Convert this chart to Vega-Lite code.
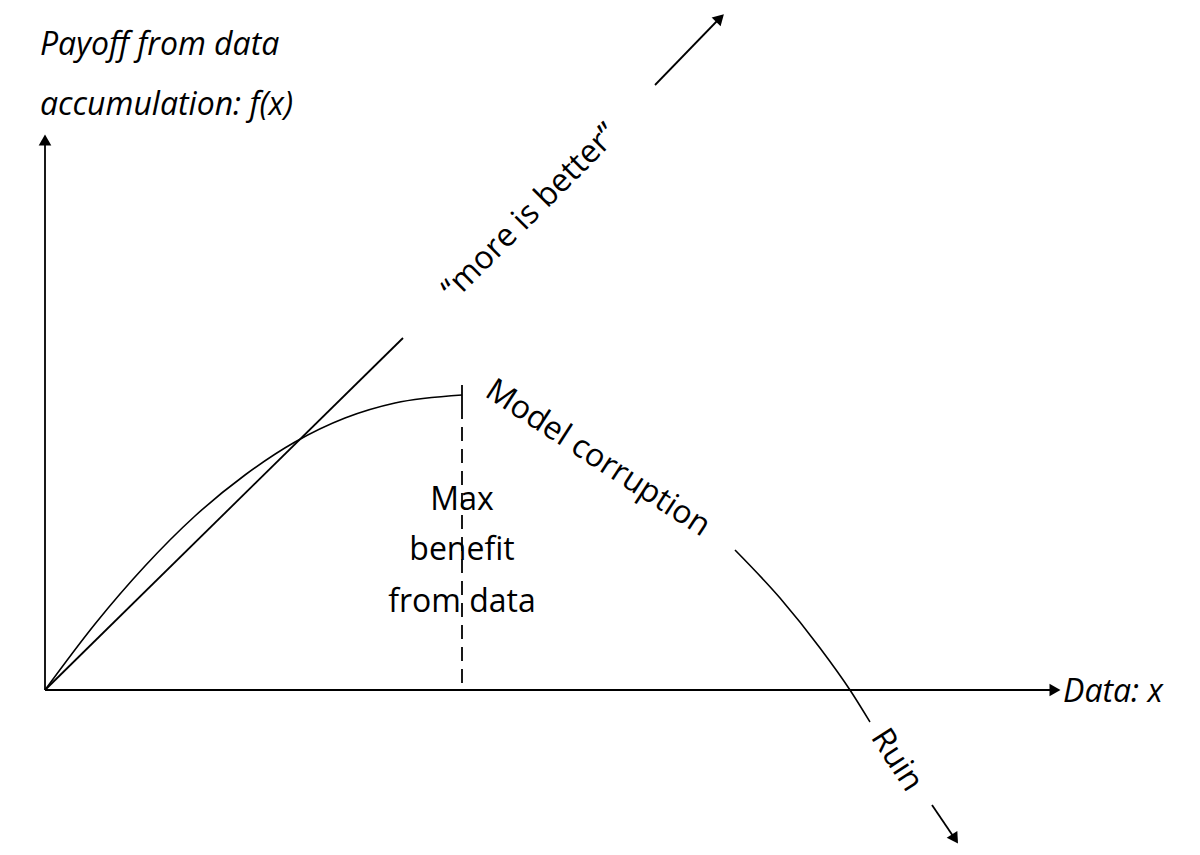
{
  "$schema": "https://vega.github.io/schema/vega-lite/v6.json",
  "width": 1200,
  "height": 855,
  "padding": 0,
  "autosize": {"type": "none"},
  "config": {"view": {"stroke": null}, "background": "white"},
  "datasets": {
    "lines": [
      {"seg": "yaxis", "i": 0, "x": 0, "y": 0},
      {"seg": "yaxis", "i": 1, "x": 0, "y": 545},
      {"seg": "xaxis", "i": 0, "x": 0, "y": 0},
      {"seg": "xaxis", "i": 1, "x": 1005, "y": 0},
      {"seg": "diag", "i": 0, "x": 0, "y": 0},
      {"seg": "diag", "i": 1, "x": 358, "y": 352},
      {"seg": "diag2", "i": 0, "x": 610, "y": 605},
      {"seg": "diag2", "i": 1, "x": 672, "y": 669},
      {"seg": "tick", "i": 0, "x": 417, "y": 305},
      {"seg": "tick", "i": 1, "x": 417, "y": 285},
      {"seg": "ruin", "i": 0, "x": 887, "y": -115},
      {"seg": "ruin", "i": 1, "x": 908, "y": -146}
    ],
    "curves": [
      {"seg": "curve", "i": 0, "x": 0, "y": 0},
      {"seg": "curve", "i": 1, "x": 50, "y": 66},
      {"seg": "curve", "i": 2, "x": 100, "y": 124},
      {"seg": "curve", "i": 3, "x": 150, "y": 174},
      {"seg": "curve", "i": 4, "x": 200, "y": 215},
      {"seg": "curve", "i": 5, "x": 250, "y": 248},
      {"seg": "curve", "i": 6, "x": 300, "y": 272},
      {"seg": "curve", "i": 7, "x": 350, "y": 287},
      {"seg": "curve", "i": 8, "x": 417, "y": 295},
      {"seg": "right", "i": 0, "x": 690, "y": 140},
      {"seg": "right", "i": 1, "x": 735, "y": 92},
      {"seg": "right", "i": 2, "x": 775, "y": 42},
      {"seg": "right", "i": 3, "x": 805, "y": 0},
      {"seg": "right", "i": 4, "x": 825, "y": -32}
    ],
    "dashed": [
      {"i": 0, "x": 417, "y": 285},
      {"i": 1, "x": 417, "y": 0}
    ],
    "heads": [
      {"x": 0, "y": 550, "angle": 0},
      {"x": 1010, "y": 0, "angle": 90},
      {"x": 675, "y": 672, "angle": 45},
      {"x": 910, "y": -149, "angle": 147}
    ],
    "italics": [
      {"t": "Payoff from data", "x": -5, "y": 645},
      {"t": "accumulation: f(x)", "x": -5, "y": 585},
      {"t": "Data: x", "x": 1018, "y": -2}
    ],
    "labels": [
      {"t": "Max", "x": 417, "y": 190, "ang": 0},
      {"t": "benefit", "x": 417, "y": 140, "ang": 0},
      {"t": "from data", "x": 417, "y": 88, "ang": 0},
      {"t": "“more is better”", "x": 485, "y": 478, "ang": -45},
      {"t": "Model corruption", "x": 553, "y": 232, "ang": 33},
      {"t": "Ruin", "x": 852, "y": -70, "ang": 57}
    ]
  },
  "encoding": {
    "x": {"field": "x", "type": "quantitative", "axis": null, "scale": {"domain": [-45, 1155], "nice": false, "zero": false}},
    "y": {"field": "y", "type": "quantitative", "axis": null, "scale": {"domain": [-165, 690], "nice": false, "zero": false}}
  },
  "layer": [
    {
      "data": {"name": "lines"},
      "mark": {"type": "line", "color": "black", "strokeWidth": 1.8},
      "encoding": {"detail": {"field": "seg"}, "order": {"field": "i"}}
    },
    {
      "data": {"name": "curves"},
      "mark": {"type": "line", "color": "black", "strokeWidth": 1.6, "interpolate": "monotone"},
      "encoding": {"detail": {"field": "seg"}, "order": {"field": "i"}}
    },
    {
      "data": {"name": "dashed"},
      "mark": {"type": "line", "color": "black", "strokeWidth": 1.8, "strokeDash": [14, 8]},
      "encoding": {"order": {"field": "i"}}
    },
    {
      "data": {"name": "heads"},
      "mark": {"type": "point", "shape": "triangle-up", "filled": true, "color": "black", "size": 160, "opacity": 1},
      "encoding": {"angle": {"field": "angle", "type": "quantitative", "scale": null}}
    },
    {
      "data": {"name": "italics"},
      "mark": {"type": "text", "font": "Open Sans", "fontSize": 32, "fontStyle": "italic", "color": "black", "baseline": "middle", "align": "left"},
      "encoding": {"text": {"field": "t"}}
    },
    {
      "data": {"name": "labels"},
      "mark": {"type": "text", "font": "Open Sans", "fontSize": 32, "color": "black", "baseline": "middle", "align": "center"},
      "encoding": {
        "text": {"field": "t"},
        "angle": {"field": "ang", "type": "quantitative", "scale": null}
      }
    }
  ]
}
